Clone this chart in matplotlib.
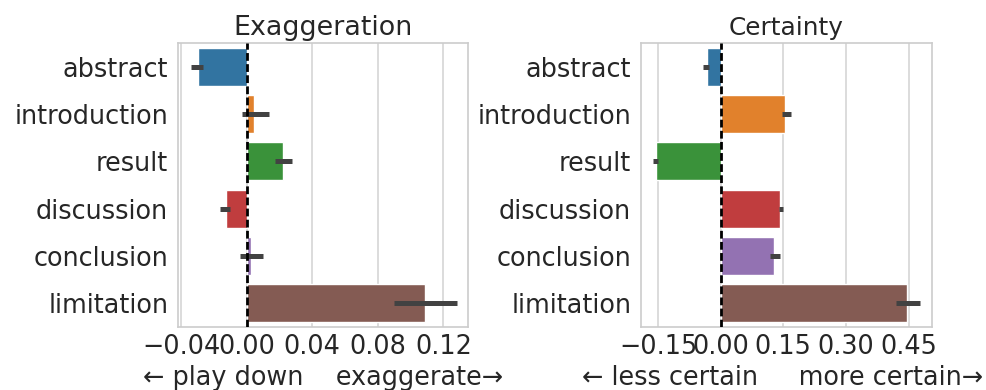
import numpy as np
import matplotlib
matplotlib.use("Agg")
import matplotlib.pyplot as plt
import seaborn as sns

sns.set_style("whitegrid")
plt.rcParams["font.family"] = ["DejaVu Sans"]

sections = ["abstract", "introduction", "result", "discussion", "conclusion", "limitation"]

# 平均值及 95% 置信区间
exag_mean = [-0.0296, 0.0043, 0.0220, -0.0128, 0.0024, 0.1090]
exag_lo = [-0.0342, -0.0030, 0.0175, -0.0163, -0.0043, 0.0901]
exag_hi = [-0.0265, 0.0136, 0.0277, -0.0102, 0.0101, 0.1286]

cert_mean = [-0.0336, 0.1550, -0.1540, 0.1420, 0.1270, 0.4460]
cert_lo = [-0.0418, 0.1460, -0.1630, 0.1390, 0.1180, 0.4210]
cert_hi = [-0.0288, 0.1690, -0.1490, 0.1500, 0.1410, 0.4770]

exag_ticks = [-0.04, 0.00, 0.04, 0.08, 0.12]
cert_ticks = [-0.15, 0.00, 0.15, 0.30, 0.45]

colors = ["#3274a1", "#e1812c", "#3a923a", "#c03d3e", "#9372b2", "#845b53"]
FS = 18.4

fig = plt.figure(figsize=(9.87, 3.9), dpi=100)
ax1 = fig.add_axes([0.1803, 0.1615, 0.2938, 0.728])
ax2 = fig.add_axes([0.6494, 0.1615, 0.2948, 0.728])


def draw(ax, mean, lo, hi, ticks, xlim, title, title_size, xlabel, label_x):
    y = np.arange(len(sections))
    mean = np.array(mean)
    ax.barh(y, mean, height=0.8, color=colors, edgecolor="white", linewidth=1, zorder=2)
    ax.errorbar(mean, y, xerr=[mean - np.array(lo), np.array(hi) - mean],
                fmt="none", ecolor="#424242", elinewidth=3.6, capsize=0, zorder=3)
    ax.axvline(0, color="black", linestyle="--", lw=2, dashes=(2.8, 1.2), zorder=4)
    ax.set_yticks(y)
    ax.set_yticklabels(sections, fontsize=FS, color="#262626")
    ax.set_ylim(5.5, -0.5)
    ax.set_xlim(*xlim)
    ax.set_xticks(ticks)
    ax.set_xticklabels([f"{t:.2f}".replace("-", "\u2212") for t in ticks],
                       fontsize=FS, color="#262626")
    ax.grid(axis="y", visible=False)
    ax.grid(axis="x", color="#d5d5d5", lw=1.2, zorder=0)
    ax.tick_params(axis="y", length=0, pad=7)
    ax.tick_params(axis="x", length=0, pad=5)
    for s in ax.spines.values():
        s.set_color("#cccccc")
        s.set_linewidth(1.2)
    ax.set_title(title, fontsize=title_size, color="#262626", pad=6)
    ax.set_xlabel(xlabel, fontsize=FS, color="#262626")
    ax.xaxis.set_label_coords(label_x, -0.135)


draw(ax1, exag_mean, exag_lo, exag_hi, exag_ticks, (-0.042, 0.135),
     "Exaggeration", 19.4, "\u2190 play down    exaggerate\u2192", 0.5)
draw(ax2, cert_mean, cert_lo, cert_hi, cert_ticks, (-0.191, 0.506),
     "Certainty", 17.8, "\u2190 less certain     more certain\u2192", 0.488)

fig.savefig("out.png", dpi=100)
